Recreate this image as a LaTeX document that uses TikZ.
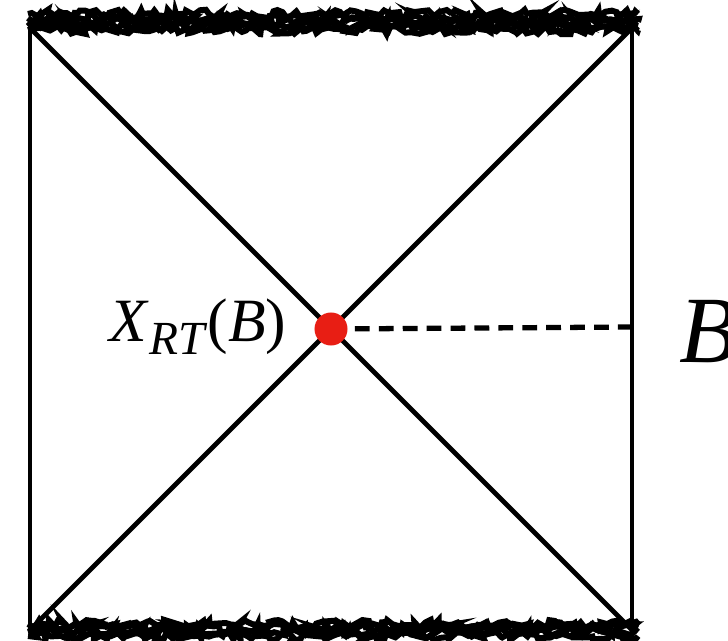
\documentclass[tikz,border=0pt]{standalone}
\usepackage{fontspec}
\setmainfont{Liberation Serif}
\usetikzlibrary{decorations.pathmorphing}
\definecolor{dotred}{RGB}{232,30,20}
\tikzset{
  edge/.style={line width=1.35pt, line cap=round},
  sing/.style={line width=1.7pt, decorate, decoration={random steps, segment length=1.2pt, amplitude=1.2pt}},
  dashline/.style={line width=1.5pt, dash pattern=on 4.2pt off 2.6pt},
}
\begin{document}
\begin{tikzpicture}[x=0.01cm,y=-0.01cm]
\useasboundingbox (0,0) rectangle (728,640);
\pgfmathsetseed{7}
\coordinate (tl) at (30,28);
\coordinate (tr) at (632,28);
\coordinate (bl) at (30,630);
\coordinate (br) at (632,630);
\coordinate (c) at (331,329);
\coordinate (bend) at (632,327);
% singularities
\foreach \y in {14,18,22,26,30} {
  \draw[sing] (28,\y) -- (638,\y);
}
\foreach \y in {624,628,632,636} {
  \draw[sing] (28,\y) -- (638,\y);
}
% frame and horizons
\draw[edge] (tl) -- (bl);
\draw[edge] (tr) -- (br);
\draw[edge] (tl) -- (br);
\draw[edge] (tr) -- (bl);
% dashed slice
\draw[dashline] (c) -- (bend);
\node[circle, fill=dotred, inner sep=0pt, minimum size=0.33cm] (dot) at (c) {};
\node[anchor=east, font=\fontsize{17.5}{20}\selectfont, inner sep=0pt] (xrt) at (287,327)
  {\textit{X}\raisebox{-0.45ex}{\fontsize{13.5}{15}\selectfont\textit{RT}}(\textit{B})};
\node[anchor=west, font=\fontsize{27}{30}\selectfont, inner sep=0pt] (blab) at (679,332) {\textit{B}};
\end{tikzpicture}
\end{document}
